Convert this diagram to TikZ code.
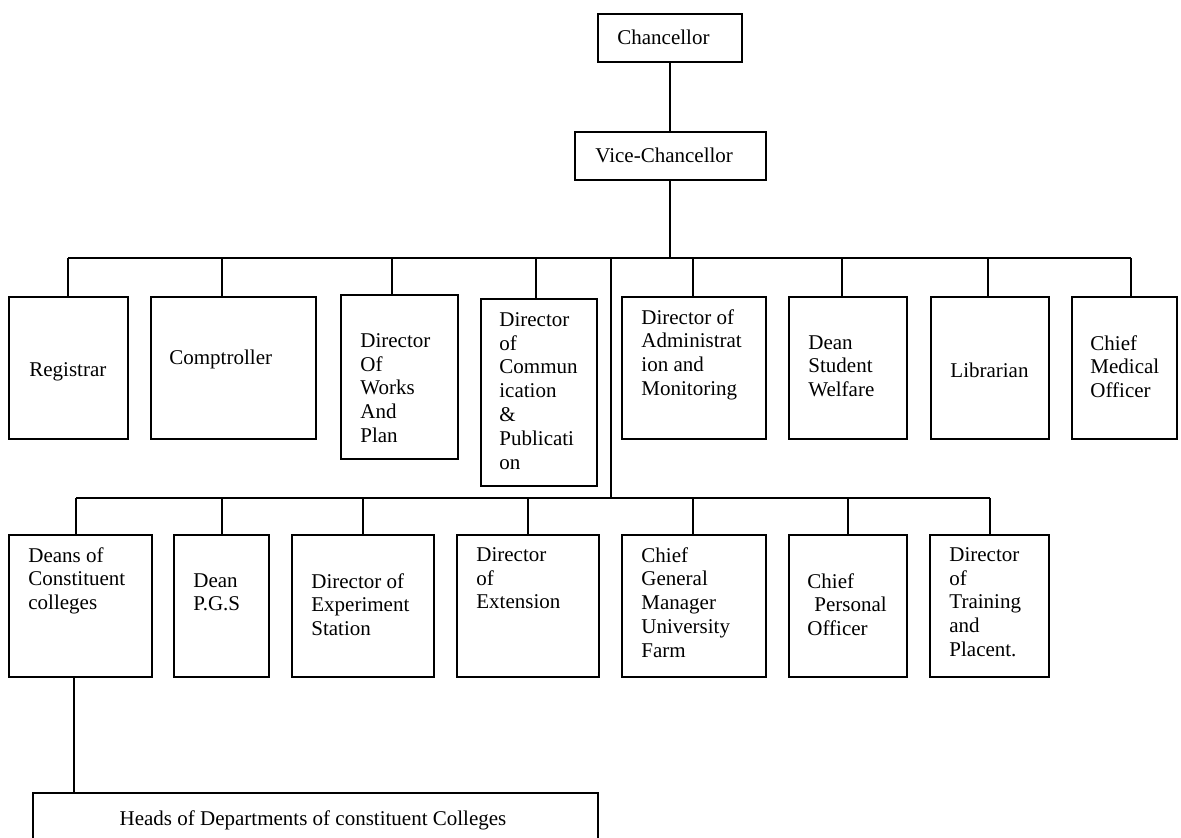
\documentclass[tikz,border=0pt]{standalone}
\usepackage{fontspec}
\setmainfont{Liberation Serif}
\usetikzlibrary{fit,calc}
\tikzset{
  box/.style={draw, line width=0.8pt, inner sep=0pt},
  txt/.style={anchor=north west, inner sep=0pt, align=left, font=\fontsize{10.5}{11.9}\selectfont},
  wire/.style={line width=0.8pt}
}
\begin{document}
\begin{tikzpicture}[x=0.5pt,y=0.5pt,yscale=-1,xscale=1]
\clip (0,0) rectangle (1181,838);

%Shape: Rectangle (top of chart)
\node[box, fit={(598,14) (742,62)}] (chan) {};
\node[box, fit={(575,132) (766,180)}] (vc) {};

%Shape: Rectangle (first row)
\node[box, fit={(9,297) (128,439)}] (reg) {};
\node[box, fit={(151,297) (316,439)}] (comp) {};
\node[box, fit={(341,295) (458,459)}] (works) {};
\node[box, fit={(481,299) (597,486)}] (comm) {};
\node[box, fit={(622,297) (766,439)}] (admin) {};
\node[box, fit={(789,297) (907,439)}] (dsw) {};
\node[box, fit={(931,297) (1049,439)}] (lib) {};
\node[box, fit={(1072,297) (1177,439)}] (cmo) {};

%Shape: Rectangle (second row)
\node[box, fit={(9,535) (152,677)}] (deans) {};
\node[box, fit={(174,535) (269,677)}] (pgs) {};
\node[box, fit={(292,535) (434,677)}] (exp) {};
\node[box, fit={(457,535) (599,677)}] (ext) {};
\node[box, fit={(622,535) (766,677)}] (cgm) {};
\node[box, fit={(789,535) (907,677)}] (cpo) {};
\node[box, fit={(930,535) (1049,677)}] (train) {};

%Shape: Rectangle (bottom)
\node[box, fit={(33,793) (598,870)}] (heads) {};

% Text Node
\node[txt] (chanT) at (617,30) {Chancellor};
\node[txt] (vcT) at (595,148) {Vice-Chancellor};
% Text Node
\node[txt] (regT) at (29,362) {Registrar};
\node[txt] (compT) at (169,350) {Comptroller};
\node[txt] (worksT) at (360,333) {Director\\Of\\Works\\And\\Plan};
\node[txt] (commT) at (499,312) {Director\\of\\Commun\\ication\\\&\\Publicati\\on};
\node[txt] (adminT) at (641,309) {Director of\\Administrat\\ion and\\Monitoring};
\node[txt] (dswT) at (808,335) {Dean\\Student\\Welfare};
\node[txt] (libT) at (950,363) {Librarian};
\node[txt] (cmoT) at (1090,335) {Chief\\Medical\\Officer};
% Text Node
\node[txt] (deansT) at (28,547) {Deans of\\Constituent\\colleges};
\node[txt] (pgsT) at (193,573) {Dean\\P.G.S};
\node[txt] (expT) at (311,573) {Director of\\Experiment\\Station};
\node[txt] (extT) at (476,547) {Director\\of\\Extension};
\node[txt] (cgmT) at (641,547) {Chief\\General\\Manager\\University\\Farm};
\node[txt] (cpoT) at (807,573) {Chief\\\hspace*{3.5pt}Personal\\Officer};
\node[txt] (trainT) at (949,547) {Director\\of\\Training\\and\\Placent.};
% Text Node
\node[txt, anchor=north] (headsT) at (313,810) {Heads of Departments of constituent Colleges};

%Straight Lines
\coordinate (tbL) at (68,258);
\coordinate (tbR) at (1131,258);
\coordinate (jt) at (611,258);
\coordinate (jb) at (611,498);
\coordinate (lbL) at (76,498);
\coordinate (lbR) at (990,498);
\draw[wire] (chan.south) -- (chan.south |- vc.north);
\draw[wire] ($(vc.south)+(-0.5,0)$) coordinate (d) -- (d |- tbL);
\draw[wire] (tbL) -- (tbR);
\draw[wire] (jt) -- (jb);
\draw[wire] (lbL) -- (lbR);
\foreach \b/\dx in {reg/-0.5,comp/-11.5,works/-7.5,comm/-3,admin/-1,dsw/-6,lib/-2,cmo/6.5}
  \draw[wire] ($(\b.north)+(\dx,0)$) coordinate (d) -- (d |- tbL);
\foreach \b/\dx in {deans/-4.5,pgs/0.5,exp/0,ext/0,cgm/-1,cpo/0,train/0.5}
  \draw[wire] ($(\b.north)+(\dx,0)$) coordinate (d) -- (d |- lbL);
\draw[wire] ($(deans.south)+(-6.5,0)$) coordinate (d) -- (d |- heads.north);
\end{tikzpicture}
\end{document}
